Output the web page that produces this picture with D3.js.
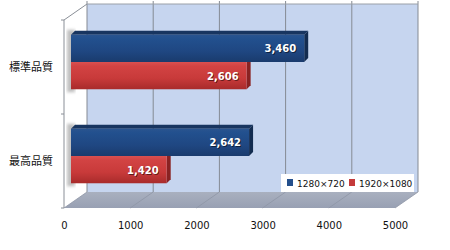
<!DOCTYPE html>
<html><head><meta charset="utf-8">
<script src="https://cdn.jsdelivr.net/npm/d3@7"></script>
<style>html,body{margin:0;padding:0;background:#fff;}svg{display:block;}</style>
</head><body>
<script>
const categories = ["標準品質", "最高品質"];
const seriesNames = ["1280×720", "1920×1080"];
const values720 = [3460, 2642];
const values1080 = [2606, 1420];
const xTicks = [0, 1000, 2000, 3000, 4000, 5000];

const W = 450, H = 250;
const svg = d3.select("body").append("svg").attr("width", W).attr("height", H);
const defs = svg.append("defs");

// geometry
const front = {x0: 64, y0: 208, top: 20};
const depth = {dx: 23, dy: -16};
const barOff = {dx: 7, dy: -5};
const barDepth = {dx: 4, dy: -4};

const xFront = d3.scaleLinear().domain([0, 5000]).range([front.x0, front.x0 + 331]);
const xBar = d3.scaleLinear().domain([0, 5000]).range([front.x0 + barOff.dx, front.x0 + barOff.dx + 337]);
const yCat = d3.scaleBand().domain(categories).range([front.top, front.y0]).paddingInner(0.42).paddingOuter(0.21);
const ySer = d3.scaleBand().domain(seriesNames).range([0, yCat.bandwidth()]);

// gradients
function grad(id, stops, vertical = true) {
  const g = defs.append("linearGradient").attr("id", id)
    .attr("x1", 0).attr("y1", 0).attr("x2", vertical ? 0 : 1).attr("y2", vertical ? 1 : 0);
  stops.forEach(s => g.append("stop").attr("offset", s[0]).attr("stop-color", s[1]));
}
grad("gBlue", [[0, "#2a548f"], [0.15, "#22508e"], [0.6, "#1f4782"], [1, "#1a3b6d"]]);
grad("gRed", [[0, "#d95050"], [0.15, "#d24343"], [0.6, "#c83a3a"], [1, "#a82b2b"]]);
grad("gFloor", [[0, "#a9b0bf"], [1, "#98a0b3"]]);
defs.append("filter").attr("id", "blur").append("feGaussianBlur").attr("stdDeviation", 1.6);

// back wall
const bx0 = xFront(0) + depth.dx, bx1 = xFront(5000) + depth.dx;
const by0 = front.top + depth.dy, by1 = front.y0 + depth.dy;
svg.append("rect").attr("x", bx0).attr("y", by0).attr("width", bx1 - bx0).attr("height", by1 - by0).attr("fill", "#c6d5ef");
// left wall
svg.append("polygon").attr("points", [[front.x0, front.top], [bx0, by0], [bx0, by1], [front.x0, front.y0]].join(" ")).attr("fill", "#ffffff");
// floor
svg.append("polygon").attr("points", [[xFront(0), front.y0], [xFront(5000), front.y0], [bx1, by1], [bx0, by1]].join(" ")).attr("fill", "url(#gFloor)");

// gridlines on back wall
svg.selectAll(".grid").data(xTicks).join("line")
  .attr("x1", d => xFront(d) + depth.dx).attr("x2", d => xFront(d) + depth.dx)
  .attr("y1", by0 - 3).attr("y2", by1).attr("stroke", "#858a93").attr("stroke-width", 1);
// floor lines
svg.selectAll(".fl").data(xTicks).join("line")
  .attr("x1", d => xFront(d)).attr("y1", front.y0)
  .attr("x2", d => xFront(d) + depth.dx).attr("y2", by1)
  .attr("stroke", "#8e95a6").attr("stroke-width", 0.8);
// top line of back wall
svg.append("line").attr("x1", bx0).attr("x2", bx1).attr("y1", by0).attr("y2", by0).attr("stroke", "#9aa0a8");
// left wall top edge
svg.append("line").attr("x1", front.x0).attr("y1", front.top).attr("x2", bx0).attr("y2", by0).attr("stroke", "#8a8f97");
// front vertical axis
svg.append("line").attr("x1", front.x0).attr("x2", front.x0).attr("y1", front.top).attr("y2", front.y0).attr("stroke", "#8a8f97");
// y ticks
const yTickPos = [front.top, (front.top + front.y0) / 2, front.y0];
svg.selectAll(".yt").data(yTickPos).join("line")
  .attr("x1", front.x0 - 3).attr("x2", front.x0).attr("y1", d => d).attr("y2", d => d).attr("stroke", "#8a8f97");

// x axis labels
const xAxis = d3.axisBottom(xFront).tickValues(xTicks).tickFormat(d3.format("d")).tickSize(0).tickPadding(14);
const xg = svg.append("g").attr("transform", `translate(0,${front.y0})`).call(xAxis);
xg.select(".domain").remove();
xg.selectAll("text").attr("font-family", "DejaVu Sans, Verdana, sans-serif").attr("font-size", 10).attr("fill", "#111");

// category labels
const yAxis = d3.axisLeft(yCat).tickSize(0).tickPadding(11);
const yg = svg.append("g").attr("transform", `translate(${front.x0},0)`).call(yAxis);
yg.select(".domain").remove();
yg.selectAll("text").attr("font-family", "'Noto Sans CJK JP', sans-serif").attr("font-size", 11).attr("fill", "#111").attr("dy", "0.4em");

// bars
const rows = [];
categories.forEach((c, i) => {
  rows.push({cat: c, ser: seriesNames[1], v: values1080[i], fill: "url(#gRed)", top: "#9e2a2a", side: "#8a2222"});
  rows.push({cat: c, ser: seriesNames[0], v: values720[i], fill: "url(#gBlue)", top: "#183560", side: "#132c50"});
});

// shadows left of bars
categories.forEach(c => {
  const y0 = yCat(c) + barOff.dy;
  svg.append("rect").attr("x", xBar(0) - 4).attr("y", y0 - 5).attr("width", 8).attr("height", yCat.bandwidth() + 8)
    .attr("fill", "#8d8d8d").attr("opacity", 0.55).attr("filter", "url(#blur)");
});

const bars = svg.append("g");
rows.forEach(r => {
  const x0 = xBar(0), x1 = xBar(r.v);
  const y0 = yCat(r.cat) + barOff.dy + ySer(r.ser);
  const h = ySer.bandwidth();
  const g = bars.append("g");
  g.append("polygon").attr("points", [[x0, y0], [x0 + barDepth.dx, y0 + barDepth.dy], [x1 + barDepth.dx, y0 + barDepth.dy], [x1, y0]].join(" ")).attr("fill", r.top);
  g.append("polygon").attr("points", [[x1, y0], [x1 + barDepth.dx, y0 + barDepth.dy], [x1 + barDepth.dx, y0 + h + barDepth.dy], [x1, y0 + h]].join(" ")).attr("fill", r.side);
  g.append("rect").attr("x", x0).attr("y", y0).attr("width", x1 - x0).attr("height", h).attr("fill", r.fill);
  const lbl = d3.format(",")(r.v);
  const ty = y0 + h / 2 + 4;
  g.append("text").attr("x", x1 - 7).attr("y", ty + 1).attr("text-anchor", "end")
    .attr("font-family", "DejaVu Sans, Verdana, sans-serif").attr("font-weight", "bold").attr("font-size", 10)
    .attr("fill", "#000").attr("opacity", 0.5).text(lbl);
  g.append("text").attr("x", x1 - 8).attr("y", ty).attr("text-anchor", "end")
    .attr("font-family", "DejaVu Sans, Verdana, sans-serif").attr("font-weight", "bold").attr("font-size", 10)
    .attr("fill", "#ffffff").text(lbl);
});

// legend
const lg = svg.append("g").attr("transform", "translate(281,174)");
lg.append("rect").attr("width", 133).attr("height", 18).attr("fill", "#ffffff");
const legItems = [{name: seriesNames[0], c: "#244f8c", x: 6}, {name: seriesNames[1], c: "#c43a3a", x: 68}];
legItems.forEach(it => {
  lg.append("rect").attr("x", it.x).attr("y", 5).attr("width", 6).attr("height", 7).attr("fill", it.c);
  lg.append("text").attr("x", it.x + 10).attr("y", 12.5).attr("font-family", "DejaVu Sans, Verdana, sans-serif")
    .attr("font-size", 9).attr("fill", "#111").text(it.name);
});
</script>
</body></html>
